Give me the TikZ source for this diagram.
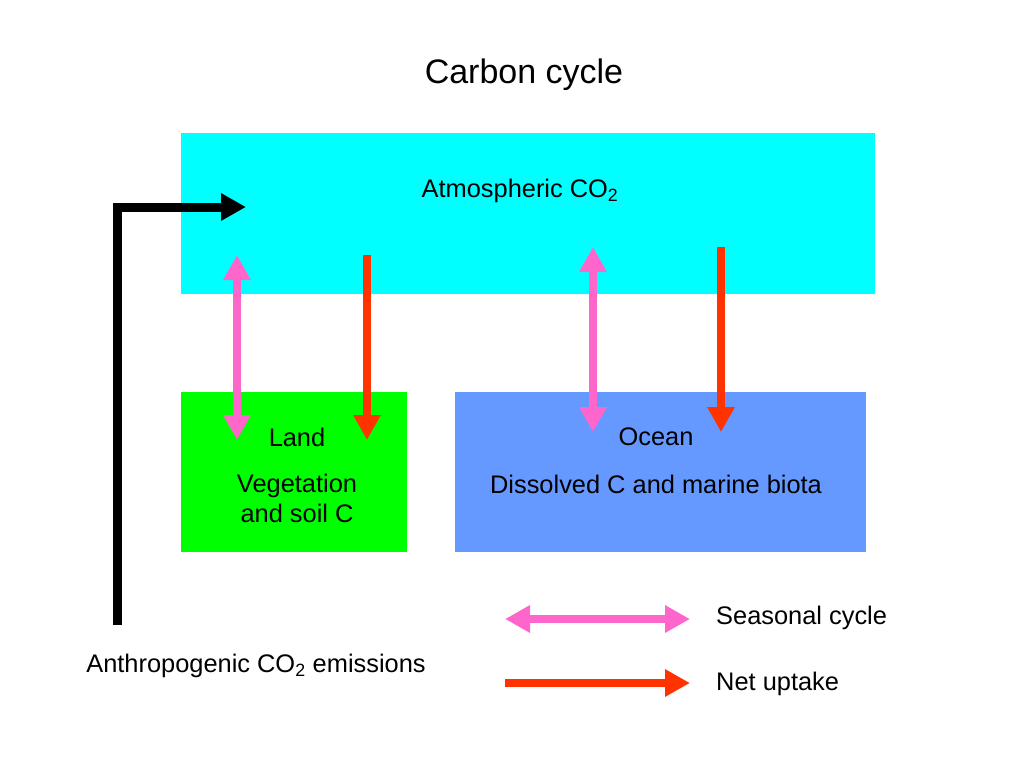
\documentclass[tikz,border=0pt]{standalone}
\usepackage{fontspec}
\setmainfont{Liberation Sans}
\usetikzlibrary{arrows.meta}
\definecolor{atmo}{HTML}{00FFFF}
\definecolor{landc}{HTML}{00FF00}
\definecolor{oceanc}{HTML}{6699FF}
\definecolor{pinkc}{HTML}{FF66CC}
\definecolor{redc}{HTML}{FF3300}
\tikzset{
  box/.style={draw=none, inner sep=0pt, outer sep=0pt, anchor=north west},
  txt/.style={inner sep=0pt, font=\fontsize{25.4}{30}\selectfont},
  seasonal/.style={draw=pinkc, line width=8pt, {Triangle[length=25pt,width=26pt]}-{Triangle[length=25pt,width=26pt]}},
  netup/.style={draw=redc, line width=8pt, -{Triangle[length=25pt,width=26pt]}},
  emis/.style={draw=black, line width=9pt, -{Triangle[length=25pt,width=26pt]}}
}
\begin{document}
\begin{tikzpicture}[x=1pt,y=-1pt]
\useasboundingbox (0,0) rectangle (1024,768);
% boxes
\node[box, fill=atmo, minimum width=694pt, minimum height=161pt] (atm) at (181,133) {};
\node[box, fill=landc, minimum width=226pt, minimum height=160pt] (land) at (181,392) {};
\node[box, fill=oceanc, minimum width=411pt, minimum height=160pt] (ocean) at (455,392) {};
% texts
\node[inner sep=0pt, font=\fontsize{34}{40}\selectfont] (title) at (524,75) {Carbon cycle};
\node[txt] (atmtxt) at (520,191) {Atmospheric CO\textsubscript{2}};
\node[txt] (landtxt) at (297,437) {Land};
\node[txt, align=center] (landsub) at (297,498) {Vegetation\\and soil C};
\node[txt] (oceantxt) at (656,437) {Ocean};
\node[txt] (oceansub) at (656,484) {Dissolved C and marine biota};
\node[txt, anchor=west] (seastxt) at (716,618) {Seasonal cycle};
\node[txt, anchor=west] (nettxt) at (716,684) {Net uptake};
\node[txt] (emtxt) at (256,666) {Anthropogenic CO\textsubscript{2} emissions};
% arrow endpoints
\coordinate (lpA) at (237,255);
\coordinate (lpB) at (237,440);
\coordinate (lrA) at (367,255);
\coordinate (lrB) at (367,440);
\coordinate (opA) at (593,247);
\coordinate (opB) at (593,432);
\coordinate (orA) at (721,247);
\coordinate (orB) at (721,432);
\coordinate (sgA) at (505,619);
\coordinate (sgB) at (690,619);
\coordinate (nuA) at (505,683);
\coordinate (nuB) at (690,683);
\coordinate (emA) at (117,625);
\coordinate (emB) at (246,207);
% arrows
\draw[seasonal] (lpA) -- (lpB);
\draw[netup] (lrA) -- (lrB);
\draw[seasonal] (opA) -- (opB);
\draw[netup] (orA) -- (orB);
\draw[seasonal] (sgA) -- (sgB);
\draw[netup] (nuA) -- (nuB);
\draw[emis] (emA) |- (emB);
\end{tikzpicture}
\end{document}
